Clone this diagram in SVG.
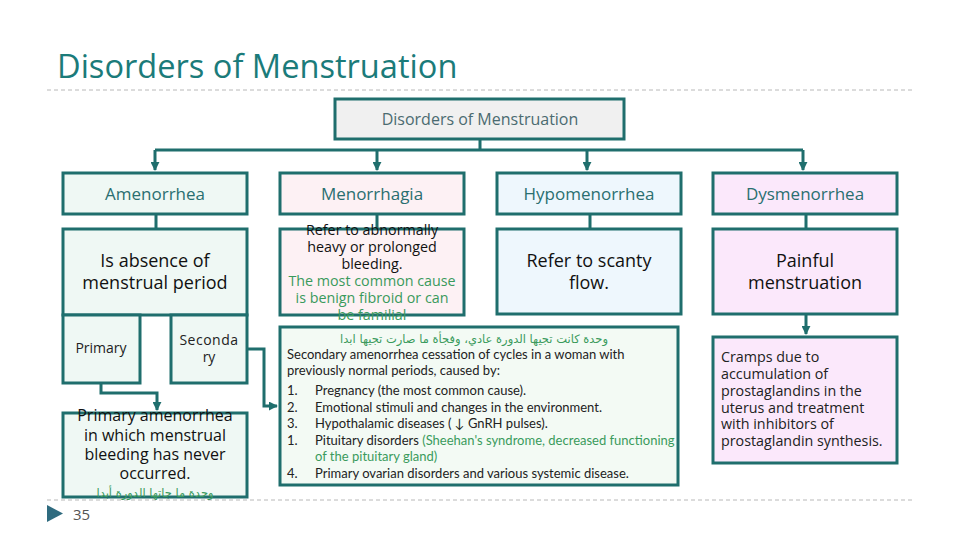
<svg xmlns="http://www.w3.org/2000/svg" width="960" height="540" viewBox="0 0 960 540">
<style>
.box{stroke:#1f6e6d;stroke-width:3}
.top{fill:#f0f0f0}
.am{fill:#eff8f4}
.mh{fill:#fdf1f4}
.hy{fill:#eef7fd}
.dy{fill:#fbe8fb}
.sec{fill:#f3faf4}
.lbl{font-family:"Open Sans","DejaVu Sans",sans-serif;font-size:17px;fill:#2a6f70;text-anchor:middle}
.desc{font-family:"Open Sans","DejaVu Sans",sans-serif;font-size:18px;fill:#111;text-anchor:middle}
.pd{font-family:"Open Sans","DejaVu Sans",sans-serif;font-size:16px;fill:#111;text-anchor:middle}
.sm{font-family:"Open Sans","DejaVu Sans",sans-serif;font-size:14.3px;fill:#111;text-anchor:middle}
.green{fill:#3a9a5c}
.ar{font-family:"DejaVu Sans",sans-serif;font-size:11.5px;fill:#3a9a5c}
.gs{font-family:"Lato","Open Sans",sans-serif;font-size:13px;fill:#222}
.cr{font-family:"Open Sans","DejaVu Sans",sans-serif;font-size:14.3px;fill:#222}
.conn{stroke:#1f6e6d;stroke-width:3;fill:none}
</style>
<defs>
<marker id="ah" viewBox="0 0 10 10" refX="9" refY="5" markerWidth="3" markerHeight="3" orient="auto">
<path d="M0,0 L10,5 L0,10 z" fill="#1f6e6d"/>
</marker>
</defs>
<rect width="960" height="540" fill="#ffffff"/>
<text x="57" y="78" font-family="Open Sans, DejaVu Sans, sans-serif" font-size="32.6" fill="#1b7b7a">Disorders of Menstruation</text>
<line x1="47" y1="90" x2="912" y2="90" stroke="#b8b8b8" stroke-width="1" stroke-dasharray="4,3"/>
<line x1="47" y1="500" x2="912" y2="500" stroke="#b8b8b8" stroke-width="1" stroke-dasharray="4,3"/>
<polygon points="47,505 63,513.5 47,522" fill="#2f6b7f"/>
<text x="73" y="520" font-family="Open Sans, DejaVu Sans, sans-serif" font-size="15" fill="#555">35</text>

<g id="connectors">
<path class="conn" d="M480,139 V150 M155,150 H803"/>
<path class="conn" d="M155,150 V170" marker-end="url(#ah)"/>
<path class="conn" d="M377,150 V170" marker-end="url(#ah)"/>
<path class="conn" d="M587,150 V170" marker-end="url(#ah)"/>
<path class="conn" d="M803,150 V170" marker-end="url(#ah)"/>
<path class="conn" d="M156,214 V229 M377,214 V229 M590,214 V229 M806,214 V229"/>
<path class="conn" d="M806,314 V334" marker-end="url(#ah)"/>
<path class="conn" d="M101,383 V393 H157 V410" marker-end="url(#ah)"/>
<path class="conn" d="M247,349 H264 V406 H277" marker-end="url(#ah)"/>
</g>

<g id="root">
<rect class="box top" x="335" y="99" width="289" height="40"/>
<text x="480" y="125" font-family="Open Sans, DejaVu Sans, sans-serif" font-size="16" fill="#4b6b70" text-anchor="middle">Disorders of Menstruation</text>
</g>

<g id="amenorrhea">
<rect class="box am" x="63" y="173" width="184" height="41"/>
<text class="lbl" x="155" y="200">Amenorrhea</text>
</g>
<g id="menorrhagia">
<rect class="box mh" x="280" y="173" width="184" height="41"/>
<text class="lbl" x="372" y="200">Menorrhagia</text>
</g>
<g id="hypomenorrhea">
<rect class="box hy" x="497" y="173" width="184" height="41"/>
<text class="lbl" x="589" y="200">Hypomenorrhea</text>
</g>
<g id="dysmenorrhea">
<rect class="box dy" x="713" y="173" width="184" height="41"/>
<text class="lbl" x="805" y="200">Dysmenorrhea</text>
</g>

<g id="amen-desc">
<rect class="box am" x="63" y="229" width="184" height="86"/>
<text class="desc" x="155" y="267">Is absence of</text>
<text class="desc" x="155" y="289">menstrual period</text>
</g>
<g id="menor-desc">
<rect class="box mh" x="280" y="229" width="184" height="86"/>
<text class="sm" x="372" y="235">Refer to abnormally</text>
<text class="sm" x="372" y="252">heavy or prolonged</text>
<text class="sm" x="372" y="269">bleeding.</text>
<text class="sm green" x="372" y="286">The most common cause</text>
<text class="sm green" x="372" y="303">is benign fibroid or can</text>
<text class="sm green" x="372" y="320">be familial</text>
</g>
<g id="hypo-desc">
<rect class="box hy" x="497" y="229" width="184" height="85"/>
<text class="desc" x="589" y="267">Refer to scanty</text>
<text class="desc" x="589" y="289">flow.</text>
</g>
<g id="dys-desc">
<rect class="box dy" x="713" y="229" width="184" height="85"/>
<text class="desc" x="805" y="267">Painful</text>
<text class="desc" x="805" y="289">menstruation</text>
</g>

<g id="primary">
<rect class="box am" x="63" y="315" width="77" height="68"/>
<text x="101" y="353" font-family="Open Sans, DejaVu Sans, sans-serif" font-size="14" fill="#222" text-anchor="middle">Primary</text>
</g>
<g id="secondary">
<rect class="box am" x="171" y="315" width="76" height="68"/>
<text x="209" y="345" font-family="Open Sans, DejaVu Sans, sans-serif" font-size="14" fill="#222" text-anchor="middle" letter-spacing="0.5">Seconda</text>
<text x="209" y="362" font-family="Open Sans, DejaVu Sans, sans-serif" font-size="14" fill="#222" text-anchor="middle">ry</text>
</g>

<g id="primary-desc">
<rect class="box am" x="63" y="413" width="184" height="84"/>
<text class="pd" x="155" y="421">Primary amenorrhea</text>
<text class="pd" x="155" y="441">in which menstrual</text>
<text class="pd" x="155" y="460">bleeding has never</text>
<text class="pd" x="155" y="479">occurred.</text>
<text class="ar" x="155" y="497" text-anchor="middle" font-size="13">وحدة ما جاتها الدورة أبدا</text>
</g>

<g id="secondary-desc">
<rect class="box sec" x="280" y="327" width="398" height="158"/>
<text class="ar" x="608" y="343" text-anchor="end">وحدة كانت تجيها الدورة عادي، وفجأة ما صارت تجيها ابدا</text>
<text class="gs" x="287" y="359">Secondary amenorrhea cessation of cycles in a woman with</text>
<text class="gs" x="287" y="375">previously normal periods, caused by:</text>
<text class="gs" x="287" y="395">1.</text><text class="gs" x="315" y="395">Pregnancy (the most common cause).</text>
<text class="gs" x="287" y="412">2.</text><text class="gs" x="315" y="412">Emotional stimuli and changes in the environment.</text>
<text class="gs" x="287" y="428">3.</text><text class="gs" x="315" y="428">Hypothalamic diseases ( ↓ GnRH pulses).</text>
<text class="gs" x="287" y="445">1.</text><text class="gs" x="315" y="445">Pituitary disorders <tspan fill="#3a9a5c">(Sheehan's syndrome, decreased functioning</tspan></text>
<text class="gs" x="315" y="461" style="fill:#3a9a5c">of the pituitary gland)</text>
<text class="gs" x="287" y="478">4.</text><text class="gs" x="315" y="478">Primary ovarian disorders and various systemic disease.</text>
</g>

<g id="cramps">
<rect class="box dy" x="713" y="337" width="184" height="126"/>
<text class="cr" x="721" y="362">Cramps due to</text>
<text class="cr" x="721" y="379">accumulation of</text>
<text class="cr" x="721" y="396">prostaglandins in the</text>
<text class="cr" x="721" y="413">uterus and treatment</text>
<text class="cr" x="721" y="429">with inhibitors of</text>
<text class="cr" x="721" y="446">prostaglandin synthesis.</text>
</g>
</svg>
